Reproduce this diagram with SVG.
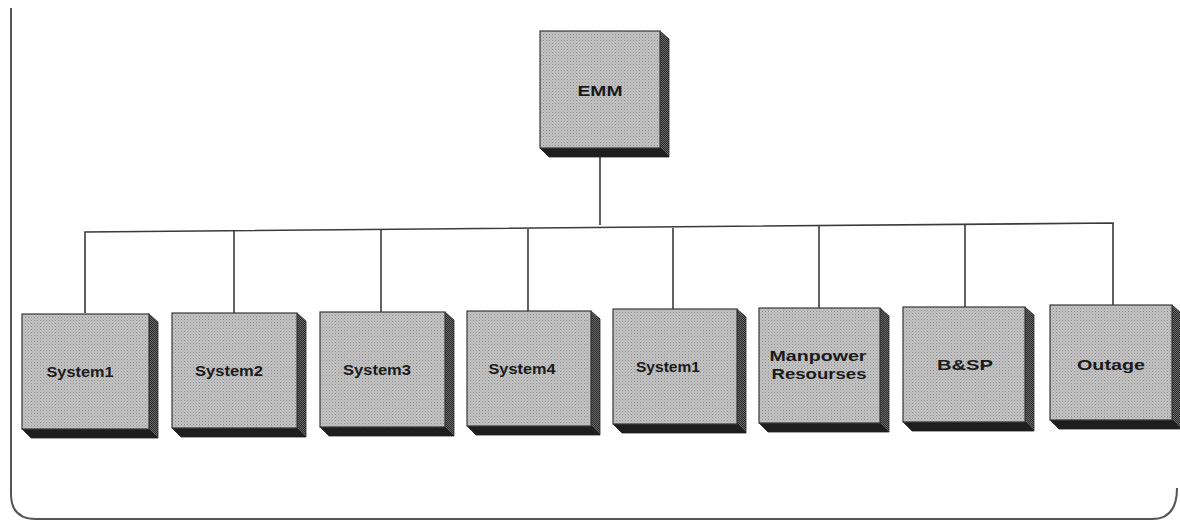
<svg xmlns="http://www.w3.org/2000/svg" width="1180" height="523" viewBox="0 0 1180 523">
  <defs>
    <pattern id="stipple" width="3" height="3" patternUnits="userSpaceOnUse">
      <rect width="3" height="3" fill="#c4c4c4"/>
      <rect x="0" y="0" width="1" height="1" fill="#8e8e8e"/>
      <rect x="1.5" y="1.5" width="1" height="1" fill="#9e9e9e"/>
    </pattern>
    <pattern id="sideDots" width="2" height="2" patternUnits="userSpaceOnUse">
      <rect width="2" height="2" fill="#6a6a6a"/>
      <rect x="0" y="0" width="1" height="1" fill="#2a2a2a"/>
      <rect x="1" y="1" width="1" height="1" fill="#2a2a2a"/>
    </pattern>
  </defs>
  <style>
    .frame { fill: none; stroke: #555; stroke-width: 2; }
    .wire { fill: none; stroke: #3a3a3a; stroke-width: 1.6; }
    .front { fill: url(#stipple); stroke: #3a3a3a; stroke-width: 1.2; }
    .side { fill: url(#sideDots); stroke: #2a2a2a; stroke-width: 0.8; }
    .bottom { fill: #1e1e1e; stroke: #1e1e1e; stroke-width: 0.8; }
    .label { font-family: "Liberation Sans", Arial, sans-serif; font-weight: bold; font-size: 15px; fill: #1a1a1a; text-anchor: middle; }
  </style>

  <rect width="1180" height="523" fill="#ffffff"/>

  <!-- outer frame: left edge and rounded bottom -->
  <path class="frame" d="M 11 8 L 11 494 Q 11 519 36 519 L 1152 519 Q 1177 519 1177 488"/>

  <!-- connectors -->
  <g id="connectors">
    <line class="wire" x1="600" y1="157" x2="600" y2="225"/>
    <polyline class="wire" points="85,313 85,232 1113,223 1113,305"/>
    <line class="wire" x1="234" y1="231" x2="234" y2="313"/>
    <line class="wire" x1="381" y1="230" x2="381" y2="312"/>
    <line class="wire" x1="528" y1="229" x2="528" y2="311"/>
    <line class="wire" x1="673" y1="228" x2="673" y2="309"/>
    <line class="wire" x1="819" y1="226" x2="819" y2="308"/>
    <line class="wire" x1="965" y1="225" x2="965" y2="307"/>
  </g>

  <!-- root node -->
  <g id="node-emm" transform="translate(540,31)">
    <polygon class="side" points="120,0 129,8 129,126 120,117"/>
    <polygon class="bottom" points="0,117 120,117 129,126 9,126"/>
    <rect class="front" x="0" y="0" width="120" height="117"/>
    <text class="label" x="60" y="65" textLength="45" lengthAdjust="spacingAndGlyphs">EMM</text>
  </g>

  <!-- child nodes -->
  <g id="node-system1" transform="translate(22,314)">
    <polygon class="side" points="127,0 136,8 136,124 127,115"/>
    <polygon class="bottom" points="0,115 127,115 136,124 9,124"/>
    <rect class="front" x="0" y="0" width="127" height="115"/>
    <text class="label" x="58" y="63" textLength="67" lengthAdjust="spacingAndGlyphs">System1</text>
  </g>

  <g id="node-system2" transform="translate(172,313)">
    <polygon class="side" points="125,0 134,8 134,124 125,115"/>
    <polygon class="bottom" points="0,115 125,115 134,124 9,124"/>
    <rect class="front" x="0" y="0" width="125" height="115"/>
    <text class="label" x="57" y="63" textLength="68" lengthAdjust="spacingAndGlyphs">System2</text>
  </g>

  <g id="node-system3" transform="translate(320,312)">
    <polygon class="side" points="125,0 134,8 134,124 125,115"/>
    <polygon class="bottom" points="0,115 125,115 134,124 9,124"/>
    <rect class="front" x="0" y="0" width="125" height="115"/>
    <text class="label" x="57" y="63" textLength="68" lengthAdjust="spacingAndGlyphs">System3</text>
  </g>

  <g id="node-system4" transform="translate(467,311)">
    <polygon class="side" points="124,0 133,8 133,124 124,115"/>
    <polygon class="bottom" points="0,115 124,115 133,124 9,124"/>
    <rect class="front" x="0" y="0" width="124" height="115"/>
    <text class="label" x="55" y="63" textLength="67" lengthAdjust="spacingAndGlyphs">System4</text>
  </g>

  <g id="node-system5" transform="translate(613,309)">
    <polygon class="side" points="124,0 133,8 133,124 124,115"/>
    <polygon class="bottom" points="0,115 124,115 133,124 9,124"/>
    <rect class="front" x="0" y="0" width="124" height="115"/>
    <text class="label" x="55" y="63" textLength="64" lengthAdjust="spacingAndGlyphs">System1</text>
  </g>

  <g id="node-manpower" transform="translate(759,308)">
    <polygon class="side" points="121,0 130,8 130,124 121,115"/>
    <polygon class="bottom" points="0,115 121,115 130,124 9,124"/>
    <rect class="front" x="0" y="0" width="121" height="115"/>
    <text class="label" x="59" y="53" textLength="97" lengthAdjust="spacingAndGlyphs">Manpower</text>
    <text class="label" x="60" y="71" textLength="95" lengthAdjust="spacingAndGlyphs">Resourses</text>
  </g>

  <g id="node-bsp" transform="translate(903,307)">
    <polygon class="side" points="122,0 131,8 131,124 122,115"/>
    <polygon class="bottom" points="0,115 122,115 131,124 9,124"/>
    <rect class="front" x="0" y="0" width="122" height="115"/>
    <text class="label" x="62" y="63" textLength="56" lengthAdjust="spacingAndGlyphs">B&amp;SP</text>
  </g>

  <g id="node-outage" transform="translate(1050,305)">
    <polygon class="side" points="122,0 131,8 131,124 122,115"/>
    <polygon class="bottom" points="0,115 122,115 131,124 9,124"/>
    <rect class="front" x="0" y="0" width="122" height="115"/>
    <text class="label" x="61" y="65" textLength="68" lengthAdjust="spacingAndGlyphs">Outage</text>
  </g>
</svg>
